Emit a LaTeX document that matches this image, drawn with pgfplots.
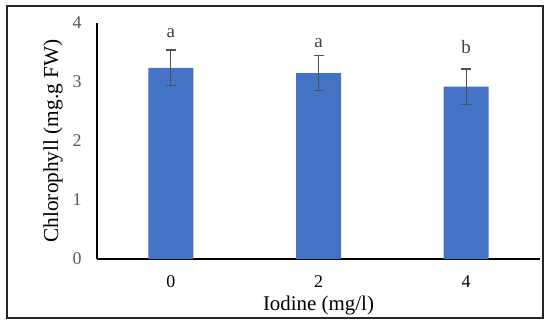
\documentclass[border=0pt]{standalone}
\usepackage{fontspec}
\setmainfont{Liberation Serif}
\usepackage{pgfplots}
\pgfplotsset{compat=1.18}
\definecolor{barblue}{HTML}{4472C4}
\definecolor{tickgray}{HTML}{595959}
\definecolor{errgray}{HTML}{505050}
\definecolor{letgray}{HTML}{404040}
\newcommand\tfont{\fontsize{18}{18}\selectfont}
\begin{document}
\begin{tikzpicture}
\path[use as bounding box] (0bp,0bp) rectangle (550bp,325bp);
\draw[black!85, line width=1.2bp] (7bp,7bp) rectangle (543bp,319bp);
\begin{axis}[
  at={(97bp,66bp)}, anchor=south west,
  scale only axis, width=443bp, height=236bp,
  ymin=0, ymax=4, xmin=-0.5, xmax=2.5,
  axis x line*=bottom, axis y line*=left,
  axis line style={black, line width=1.2bp, -},
  xtick={0,1,2}, xticklabels={{\tfont 0},{\tfont 2},{\tfont 4}}, ytick={0,1,2,3,4},
  yticklabel={\tfont\pgfmathprintnumber{\tick}},
  major tick length=0pt,
  clip=false,
  /pgf/number format/assume math mode=true,
  yticklabel style={text=tickgray, anchor=center, xshift=-20bp},
  xticklabel style={text=black, anchor=center, yshift=-23bp},
  xlabel={Iodine (mg/l)}, ylabel={Chlorophyll (mg.g FW)},
  xlabel style={font=\fontsize{21}{21}\selectfont, at={(axis description cs:0.5,0)}, anchor=center, yshift=-46bp},
  ylabel style={font=\fontsize{21.4}{21.4}\selectfont, at={(axis description cs:-0.0993,0.5)}, anchor=center},
]
\addplot[ybar, fill=barblue, draw=none, bar width=45bp,
  error bars/.cd, y dir=both, y explicit,
  error bar style={errgray, line width=1.3bp},
  error mark options={rotate=90, mark size=5bp, line width=1.3bp, errgray}]
  coordinates {(0,3.24) +- (0,0.30) (1,3.15) +- (0,0.30) (2,2.92) +- (0,0.30)};
\addplot[draw=none, mark=none, nodes near coords, point meta=explicit symbolic,
  nodes near coords style={anchor=base, text=letgray, font=\fontsize{19}{19}\selectfont}]
  coordinates {(0,3.76)[a] (1,3.59)[a] (2,3.49)[b]};
\end{axis}
\end{tikzpicture}
\end{document}
